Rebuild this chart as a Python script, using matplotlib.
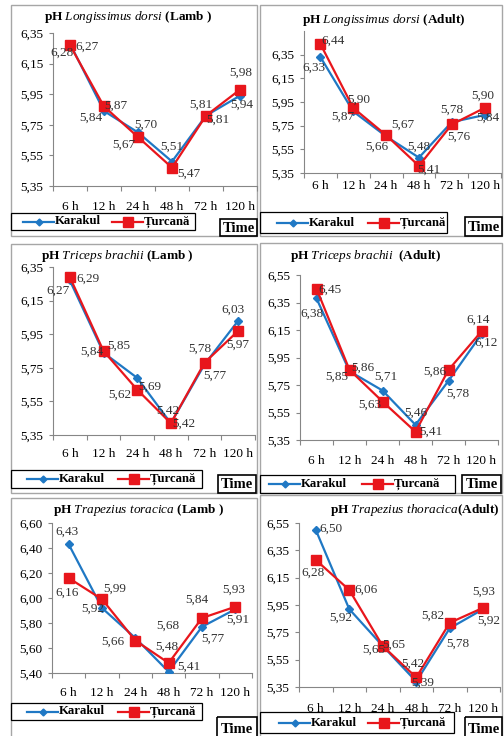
import matplotlib
matplotlib.use("Agg")
import matplotlib.pyplot as plt
from matplotlib.patches import Rectangle
from matplotlib.lines import Line2D

plt.rcParams['font.family'] = ['Liberation Serif', 'DejaVu Serif']
plt.rcParams['mathtext.fontset'] = 'custom'
plt.rcParams['mathtext.rm'] = 'Liberation Serif'
plt.rcParams['mathtext.it'] = 'Liberation Serif:italic'
plt.rcParams['mathtext.bf'] = 'Liberation Serif:bold'

W, H = 504, 736

# ---- data ----
times = ["6 h", "12 h", "24 h", "48 h", "72 h", "120 h"]
series_names = ["Karakul", "Țurcană"]

ld_lamb_karakul = [6.28, 5.84, 5.70, 5.51, 5.81, 5.94]
ld_lamb_turcana = [6.27, 5.87, 5.67, 5.47, 5.81, 5.98]

ld_adult_karakul = [6.33, 5.87, 5.66, 5.48, 5.78, 5.84]
ld_adult_turcana = [6.44, 5.90, 5.67, 5.41, 5.76, 5.90]

tb_lamb_karakul = [6.27, 5.84, 5.69, 5.42, 5.77, 6.03]
tb_lamb_turcana = [6.29, 5.85, 5.62, 5.42, 5.78, 5.97]

tb_adult_karakul = [6.38, 5.85, 5.71, 5.46, 5.78, 6.12]
tb_adult_turcana = [6.45, 5.86, 5.63, 5.41, 5.86, 6.14]

tt_lamb_karakul = [6.43, 5.92, 5.68, 5.41, 5.77, 5.91]
tt_lamb_turcana = [6.16, 5.99, 5.66, 5.48, 5.84, 5.93]

tt_adult_karakul = [6.50, 5.92, 5.65, 5.39, 5.78, 5.92]
tt_adult_turcana = [6.28, 6.06, 5.65, 5.42, 5.82, 5.93]

yticks_a = [5.35, 5.55, 5.75, 5.95, 6.15, 6.35]
yticks_b = [5.35, 5.55, 5.75, 5.95, 6.15, 6.35, 6.55]
yticks_c = [5.40, 5.60, 5.80, 6.00, 6.20, 6.40, 6.60]

BLUE = "#1F78C4"
RED = "#E8161C"
AXC = "#868686"
BORDER = "#A6A6A6"
FS = 9.5

# ---- layout of each chart (pixel units, origin top-left) ----
panels = [
    dict(title=r"$\mathbf{pH}\ \mathit{Longissimus\ dorsi}\ \mathbf{(Lamb\ )}$", tpos=(128, 17),
         k=ld_lamb_karakul, t=ld_lamb_turcana,
         border=(11, 5, 257, 236), ax=(53, 257, 33, 186), ylim=(5.35, 6.35), yt=yticks_a, xpad=15,
         leg=(11, 213, 195, 230), keys=(12, 101), time=(220, 219, 257, 236),
         koff=[(-8, 9), (-13, 7), (8, -8), (0, -15), (12, 4), (2, 9)],
         toff=[(17, 1), (12, -1), (-14, 8), (17, 6), (-5, -11), (1, -17)]),
    dict(title=r"$\mathbf{pH}\ \mathit{Longissimus\ dorsi}\ \mathbf{(Adult)}$", tpos=(384, 20),
         k=ld_adult_karakul, t=ld_adult_turcana,
         border=(260, 5, 502, 236), ax=(304, 501, 31, 173), ylim=(5.35, 6.55), yt=yticks_a, xpad=7,
         leg=(260, 212, 447, 233), keys=(17, 108), time=(465, 217, 502, 236),
         koff=[(-7, 11), (-10, 5), (-9, 10), (0, -11), (0, -12), (3, 3)],
         toff=[(13, -3), (5, -8), (17, -10), (10, 4), (7, 12), (-2, -12)]),
    dict(title=r"$\mathbf{pH}\ \mathit{Triceps\ brachii}\ \mathbf{(Lamb\ )}$", tpos=(117, 256),
         k=tb_lamb_karakul, t=tb_lamb_turcana,
         border=(11, 244, 257, 493), ax=(53, 255, 267, 435), ylim=(5.35, 6.35), yt=yticks_a, xpad=13,
         leg=(11, 470, 202, 488), keys=(16, 107), time=(218, 475, 256, 493),
         koff=[(-12, 10), (-12, -1), (13, 9), (-3, -13), (10, 11), (-5, -11)],
         toff=[(18, 2), (15, -5), (-17, 5), (13, 0), (-5, -14), (0, 14)]),
    dict(title=r"$\mathbf{pH}\ \mathit{Triceps\ brachii}\ \ \mathbf{(Adult)}$", tpos=(366, 256),
         k=tb_adult_karakul, t=tb_adult_turcana,
         border=(260, 243, 502, 493), ax=(300, 498, 275, 440), ylim=(5.35, 6.55), yt=yticks_b, xpad=15,
         leg=(260, 475, 455, 493), keys=(9, 102), time=(462, 475, 501, 493),
         koff=[(-5, 15), (-13, 5), (3, -14), (0, -12), (9, 13), (5, 9)],
         toff=[(13, 1), (13, -2), (-13, 3), (15, 0), (-14, 2), (-3, -12)]),
    dict(title=r"$\mathbf{pH}\ \mathit{Trapezius\ toracica}\ \mathbf{(Lamb\ )}$", tpos=(139, 510),
         k=tt_lamb_karakul, t=tt_lamb_turcana,
         border=(11, 498, 257, 740), ax=(52, 252, 523, 673), ylim=(5.40, 6.60), yt=yticks_c, xpad=14,
         leg=(11, 703, 202, 720), keys=(16, 107), time=(217, 717, 257, 740),
         koff=[(-2, -13), (-9, 1), (32, -12), (20, -5), (11, 12), (2, 10)],
         toff=[(-2, 15), (13, -11), (-23, 1), (-2, -16), (-5, -18), (-2, -17)]),
    dict(title=r"$\mathbf{pH}\ \mathit{Trapezius\ thoracica}\mathbf{(Adult)}$", tpos=(415, 510),
         k=tt_adult_karakul, t=tt_adult_turcana,
         border=(260, 495, 502, 740), ax=(299, 500, 523, 687), ylim=(5.35, 6.55), yt=yticks_b, xpad=16,
         leg=(260, 712, 454, 733), keys=(19, 108), time=(465, 717, 502, 740),
         koff=[(15, -1), (-8, 9), (-9, 4), (6, 1), (8, 16), (6, 12)],
         toff=[(-3, 13), (17, 0), (11, -1), (-3, -14), (-17, -7), (0, -16)]),
]


def fx(x):
    return x / W


def fy(y):
    return 1 - y / H


def fmt(v):
    return f"{v:.2f}".replace(".", ",")


fig = plt.figure(figsize=(W / 100, H / 100), dpi=100)
fig.patch.set_facecolor("white")

# overlay in pixel units for frames, legends and the Time boxes
ov = fig.add_axes([0, 0, 1, 1], zorder=0)
ov.set_xlim(0, W)
ov.set_ylim(H, 0)
ov.axis("off")

for p in panels:
    bx0, by0, bx1, by1 = p["border"]
    ov.add_patch(Rectangle((bx0, by0), bx1 - bx0, by1 - by0, fill=False,
                           edgecolor=BORDER, lw=1.0))

    x0, x1, yt0, yb0 = p["ax"]
    ax = fig.add_axes([fx(x0), fy(yb0), fx(x1 - x0), (yb0 - yt0) / H], zorder=2)
    ax.patch.set_visible(False)
    xs = list(range(len(times)))
    ax.plot(xs, p["k"], color=BLUE, lw=1.6, marker="D", ms=4.2, zorder=3)
    ax.plot(xs, p["t"], color=RED, lw=1.6, marker="s", ms=7, zorder=4)

    for i, v in enumerate(p["k"]):
        dx, dy = p["koff"][i]
        ax.annotate(fmt(v), (i, v), xytext=(dx, -dy), textcoords="offset pixels",
                    ha="center", va="center", fontsize=FS, color="#333333",
                    annotation_clip=False, zorder=5)
    for i, v in enumerate(p["t"]):
        dx, dy = p["toff"][i]
        ax.annotate(fmt(v), (i, v), xytext=(dx, -dy), textcoords="offset pixels",
                    ha="center", va="center", fontsize=FS, color="#333333",
                    annotation_clip=False, zorder=5)

    ax.set_xlim(-0.5, len(times) - 0.5)
    ax.set_ylim(*p["ylim"])
    ax.set_yticks(p["yt"])
    ax.set_yticklabels([fmt(v) for v in p["yt"]])
    ax.set_xticks([i - 0.5 for i in range(len(times) + 1)])
    ax.set_xticklabels([])
    ax.set_xticks(xs, minor=True)
    ax.set_xticklabels(times, minor=True)
    ax.tick_params(axis="x", which="major", direction="out", length=3.5, color=AXC, width=0.8)
    ax.tick_params(axis="x", which="minor", length=0, pad=p["xpad"] * 0.72, labelsize=FS)
    ax.tick_params(axis="y", direction="out", length=3, color=AXC, width=0.8, labelsize=FS, pad=4)
    for s in ("top", "right"):
        ax.spines[s].set_visible(False)
    for s in ("left", "bottom"):
        ax.spines[s].set_color(AXC)
        ax.spines[s].set_linewidth(0.8)

    fig.text(fx(p["tpos"][0]), fy(p["tpos"][1]), p["title"], ha="center", va="center",
             fontsize=9.5)

    # legend
    lx0, ly0, lx1, ly1 = p["leg"]
    ov.add_patch(Rectangle((lx0, ly0), lx1 - lx0, ly1 - ly0, fill=False,
                           edgecolor="black", lw=0.9))
    ly = (ly0 + ly1) / 2
    for kx, name, col, mk, ms in ((p["keys"][0], series_names[0], BLUE, "D", 3.5),
                                  (p["keys"][1], series_names[1], RED, "s", 6.5)):
        ov.add_line(Line2D([lx0 + kx, lx0 + kx + 31], [ly, ly], color=col, lw=1.6))
        ov.add_line(Line2D([lx0 + kx + 15.5], [ly], color=col, marker=mk, ms=ms, lw=0))
        ov.text(lx0 + kx + 32, ly, name, ha="left", va="center", fontsize=9.2,
                fontweight="bold")

    # axis title box
    tx0, ty0, tx1, ty1 = p["time"]
    ov.add_patch(Rectangle((tx0, ty0), tx1 - tx0, ty1 - ty0, fill=False,
                           edgecolor="black", lw=1.2))
    ov.text((tx0 + tx1) / 2, (ty0 + ty1) / 2 + 1, "Time", ha="center", va="center",
            fontsize=10.5, fontweight="bold")

fig.savefig("out.png", dpi=100)
